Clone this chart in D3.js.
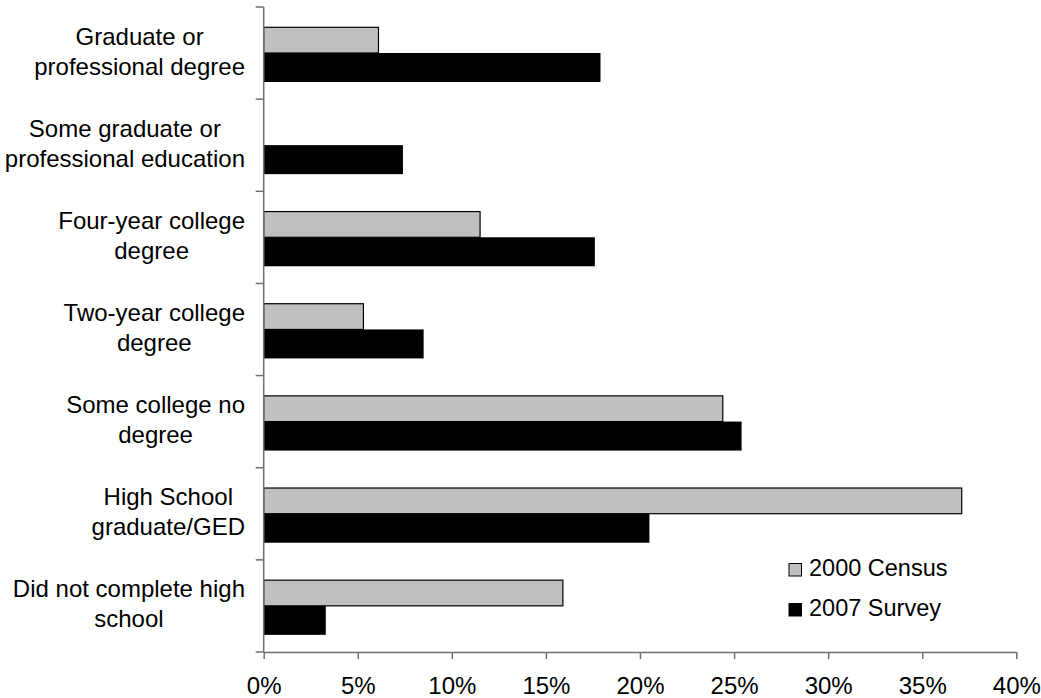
<!DOCTYPE html>
<html>
<head>
<meta charset="utf-8">
<script src="https://cdn.jsdelivr.net/npm/d3@7/dist/d3.min.js"></script>
<style>
  html, body { margin: 0; padding: 0; background: #fff; }
  svg { display: block; font-family: "Liberation Sans", Arial, sans-serif; }
</style>
</head>
<body>
<svg id="chart" width="1041" height="698"></svg>
<script>
// ---- Data ----
const categories = [
  "Graduate or professional degree",
  "Some graduate or professional education",
  "Four-year college degree",
  "Two-year college degree",
  "Some college no degree",
  "High School graduate/GED",
  "Did not complete high school"
];
const categoryLines = [
  ["Graduate or", "professional degree"],
  ["Some graduate or", "professional education"],
  ["Four-year college", "degree"],
  ["Two-year college", "degree"],
  ["Some college no", "degree"],
  ["High School", "graduate/GED"],
  ["Did not complete high", "school"]
];
const seriesNames = ["2000 Census", "2007 Survey"];
const census2000 = [6.1, 0, 11.5, 5.3, 24.4, 37.1, 15.9];
const survey2007 = [17.9, 7.4, 17.6, 8.5, 25.4, 20.5, 3.3];
const xTicks = [0, 5, 10, 15, 20, 25, 30, 35, 40];
const seriesColors = ["#c0c0c0", "#000000"];

// ---- Layout ----
const svg = d3.select("#chart");
const x = d3.scaleLinear().domain([0, 40]).range([263.7, 1016.3]);
const y = d3.scaleBand().domain(categories).range([7, 652]).padding(0);
const bw = y.bandwidth();
const axisColor = "#707070";
const fontSize = 24;

// Bars
const barSpec = [
  { values: census2000, off: 20.3, h: 25.7, fill: seriesColors[0], stroke: "#000" },
  { values: survey2007, off: 46.0, h: 29.0, fill: seriesColors[1], stroke: "none" }
];
barSpec.forEach(s => {
  svg.append("g").selectAll("rect")
    .data(categories.map((c, i) => ({ c, v: s.values[i] })).filter(d => d.v > 0))
    .join("rect")
    .attr("x", x(0))
    .attr("y", d => y(d.c) + s.off)
    .attr("width", d => x(d.v) - x(0))
    .attr("height", s.h)
    .attr("fill", s.fill)
    .attr("stroke", s.stroke)
    .attr("stroke-width", 1.2);
});

// Y axis line and ticks (at category boundaries)
const yAxisG = svg.append("g");
yAxisG.append("line")
  .attr("x1", x(0)).attr("x2", x(0))
  .attr("y1", y.range()[0]).attr("y2", y.range()[1])
  .attr("stroke", axisColor).attr("stroke-width", 1.5);
const boundaries = categories.map(c => y(c)).concat([y.range()[1]]);
yAxisG.selectAll("line.tk").data(boundaries).join("line")
  .attr("class", "tk")
  .attr("x1", x(0) - 8).attr("x2", x(0))
  .attr("y1", d => d).attr("y2", d => d)
  .attr("stroke", axisColor).attr("stroke-width", 1.5);

// X axis
const xAxis = d3.axisBottom(x)
  .tickValues(xTicks)
  .tickSize(7)
  .tickSizeOuter(0)
  .tickPadding(18)
  .tickFormat(d => d + "%");
const xg = svg.append("g")
  .attr("transform", `translate(0, ${y.range()[1]})`)
  .call(xAxis);
xg.select(".domain").attr("stroke", axisColor).attr("stroke-width", 1.5);
xg.selectAll(".tick line").attr("stroke", axisColor).attr("stroke-width", 1.5);
xg.selectAll(".tick text")
  .attr("font-size", fontSize)
  .attr("font-family", "Liberation Sans, Arial, sans-serif")
  .attr("fill", "#000")
  .attr("dy", "0.71em");

// Category labels: each block centered, widest line right-aligned at 245
const labelRight = 245;
categories.forEach((c, i) => {
  const cy = y(c) + bw / 2;
  const g = svg.append("g");
  const t = g.append("text")
    .attr("font-size", fontSize)
    .attr("fill", "#000")
    .attr("text-anchor", "middle");
  const lines = categoryLines[i];
  const tspans = lines.map((ln, j) => t.append("tspan")
    .attr("y", cy - 8.5 + j * 30)
    .text(ln));
  const maxW = d3.max(tspans, ts => ts.node().getComputedTextLength());
  tspans.forEach(ts => ts.attr("x", labelRight - maxW / 2));
});

// Legend
const legend = svg.append("g");
const legendRows = [576, 616];
seriesNames.forEach((name, i) => {
  legend.append("rect")
    .attr("x", 789).attr("y", legendRows[i] - 12.5)
    .attr("width", 12.5).attr("height", 12.5)
    .attr("fill", seriesColors[i])
    .attr("stroke", "#000").attr("stroke-width", 1);
  legend.append("text")
    .attr("x", 809).attr("y", legendRows[i])
    .attr("font-size", 23.5)
    .attr("fill", "#000")
    .text(name);
});
</script>
</body>
</html>
